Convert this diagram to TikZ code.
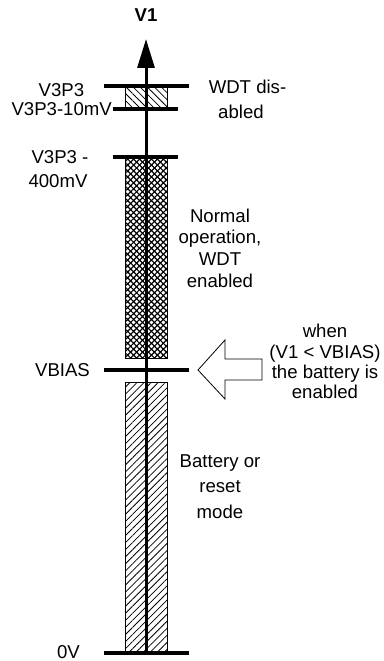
\documentclass[tikz,border=0pt]{standalone}
\usepackage{fontspec}
\setmainfont{Liberation Sans}
\usetikzlibrary{patterns,patterns.meta,arrows.meta}
\begin{document}
\begin{tikzpicture}[x=1pt,y=-1pt,
  lbl/.style={inner sep=0pt,anchor=base,font=\fontsize{18.6}{22}\selectfont},
  tick/.style={line width=4pt},
  band/.style={draw=black,line width=0.7pt},
]
\useasboundingbox (0,0) rectangle (383,661);
% coordinates
\coordinate (axbot) at (146,653);
\coordinate (axtop) at (146,39);
% bands
\path[band,pattern={Lines[angle=-45,distance=5pt,line width=0.8pt]}] (125,86) rectangle (167,109);
\path[pattern={Lines[angle=45,distance=4.2pt,line width=1.2pt]}] (125,157) rectangle (167,358);
\path[pattern={Lines[angle=-45,distance=4.2pt,line width=1.2pt]}] (125,157) rectangle (167,358);
\draw[band] (125,157) rectangle (167,358);
\path[band,pattern={Lines[angle=45,distance=5pt,line width=0.8pt]}] (125,382) rectangle (167,653);
% axis
\draw[line width=3pt,-{Triangle[width=17pt,length=29pt]}] (axbot) -- (axtop);
% ticks
\draw[tick] (104,86) -- (189,86);
\draw[tick] (113,109) -- (178,109);
\draw[tick] (113,157) -- (178,157);
\draw[tick] (104,370) -- (189,370);
\draw[tick] (104,653) -- (189,653);
% labels
\node[lbl,font=\fontsize{18.6}{22}\selectfont\bfseries] (v1) at (146,22) {V1};
\node[lbl] (l1) at (61.5,96) {V3P3};
\node[lbl,anchor=base east] (l2) at (112,115) {V3P3-10mV};
\node[lbl] (l3a) at (60,163) {V3P3 -};
\node[lbl] (l3b) at (58,187) {400mV};
\node[lbl] (l4) at (62.5,376) {VBIAS};
\node[lbl] (l5) at (68.5,658) {0V};
\node[lbl] (w1) at (247.5,93) {WDT dis-};
\node[lbl] (w2) at (241,118) {abled};
\node[lbl] (n1) at (220,222) {Normal};
\node[lbl] (n2) at (220,243.5) {operation,};
\node[lbl] (n3) at (220,265) {WDT};
\node[lbl] (n4) at (220,287) {enabled};
\node[lbl] (b1) at (220,467) {Battery or};
\node[lbl] (b2) at (220,492) {reset};
\node[lbl] (b3) at (220,518) {mode};
\node[lbl] (e1) at (325,337) {when};
\node[lbl] (e2) at (325,358) {(V1 < VBIAS)};
\node[lbl] (e3) at (325,378) {the battery is};
\node[lbl] (e4) at (325,398) {enabled};
% hollow arrow
\draw[line width=0.8pt,line join=miter] (198,370) -- (225,340) -- (225,359) -- (262,359) -- (262,380) -- (225,380) -- (225,399) -- cycle;
\end{tikzpicture}
\end{document}
